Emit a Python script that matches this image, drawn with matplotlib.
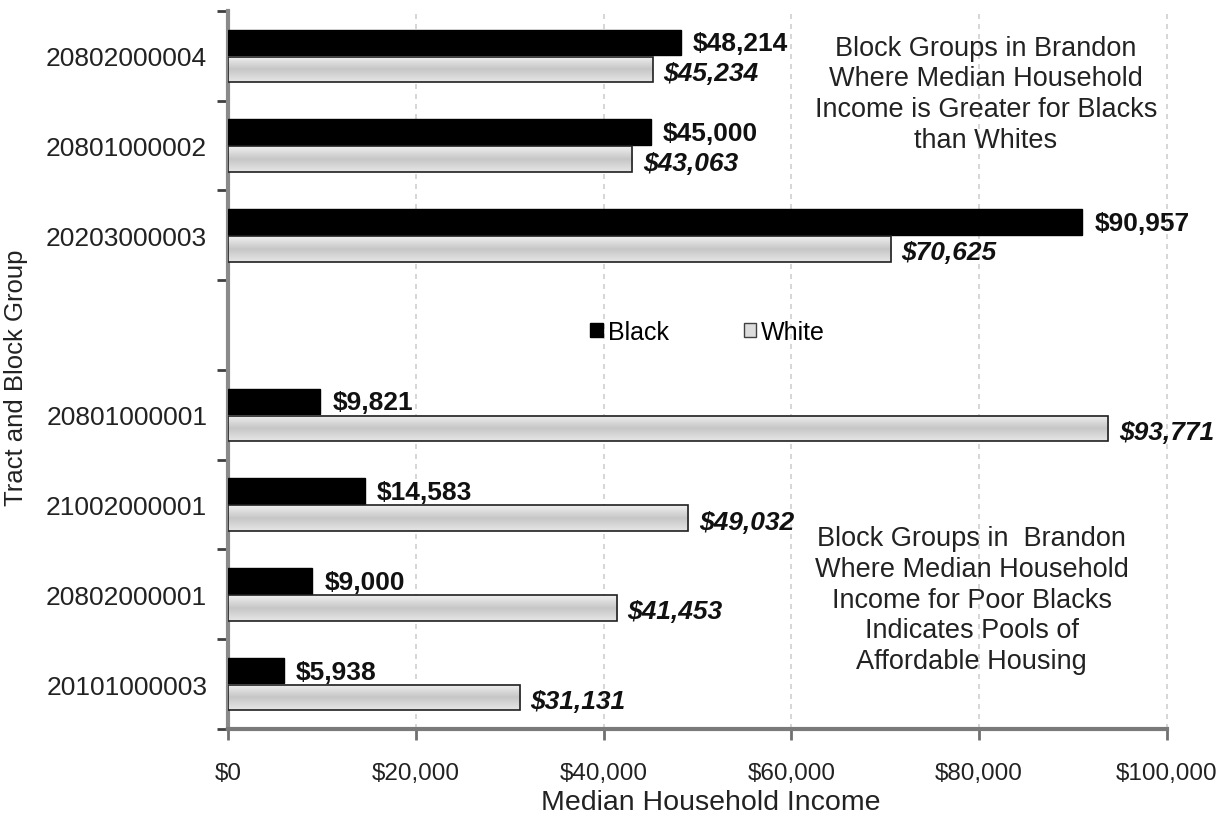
import numpy as np
import matplotlib.pyplot as plt
from matplotlib.patches import Patch
from matplotlib.colors import LinearSegmentedColormap
from matplotlib.ticker import FuncFormatter

plt.rcParams['font.family'] = ['Liberation Sans', 'DejaVu Sans']

# datos por grupo de bloque (de arriba hacia abajo); "" es el hueco central
grupos = ['20802000004', '20801000002', '20203000003', '',
          '20801000001', '21002000001', '20802000001', '20101000003']
ingreso_negro = [48214, 45000, 90957, None, 9821, 14583, 9000, 5938]
ingreso_blanco = [45234, 43063, 70625, None, 93771, 49032, 41453, 31131]

texto_arriba = ('Block Groups in Brandon\nWhere Median Household\n'
                'Income is Greater for Blacks\nthan Whites')
texto_abajo = ('Block Groups in  Brandon\nWhere Median Household\n'
               'Income for Poor Blacks\nIndicates Pools of\nAffordable Housing')

fig = plt.figure(figsize=(12.31, 8.2), dpi=100)
ax = fig.add_axes([0.1852, 0.1098, 0.948 - 0.1852, 0.9854 - 0.1098])

alto = 0.285
desp = 0.15
gris = LinearSegmentedColormap.from_list('gris', ['#f0f0f0', '#c6c6c6', '#e6e6e6'])
degradado = np.linspace(0, 1, 64).reshape(-1, 1)

for i, (b, w) in enumerate(zip(ingreso_negro, ingreso_blanco)):
    if b is None:
        continue
    ax.barh(i - desp, b, height=alto, color='black', edgecolor='black',
            linewidth=1, zorder=3)
    # barra blanca con degradado gris
    y0, y1 = i + desp - alto / 2, i + desp + alto / 2
    ax.imshow(degradado, cmap=gris, aspect='auto', extent=(0, w, y1, y0),
              zorder=3, interpolation='bilinear')
    ax.barh(i + desp, w, height=alto, facecolor='none', edgecolor='#202020',
            linewidth=1.2, zorder=4)
    ax.text(b + 1300, i - desp + 0.01, f'${b:,}', va='center', ha='left',
            fontsize=19, fontweight='bold', zorder=5, color='#111111')
    ax.text(w + 1100, i + desp + 0.04, f'${w:,}', va='center', ha='left',
            fontsize=19, fontweight='bold', fontstyle='italic', zorder=5,
            color='#111111')

ax.set_xlim(0, 100000)
ax.set_ylim(7.5, -0.5)

ax.set_yticks(range(len(grupos)))
ax.set_yticklabels(grupos, fontsize=19, color='#222222')
ax.set_yticks(np.arange(-0.5, 8, 1), minor=True)
ax.tick_params(axis='y', which='major', length=0, pad=15)
ax.tick_params(axis='y', which='minor', length=8, width=2, color='#404040')

ax.set_xticks(range(0, 100001, 20000))
ax.xaxis.set_major_formatter(FuncFormatter(lambda v, p: f'${v:,.0f}'))
ax.tick_params(axis='x', length=8, width=2, color='#707070', labelsize=17.5,
               pad=16, labelcolor='#222222')

ax.grid(axis='x', linestyle=(0, (3, 3)), color='#d0d0d0', linewidth=1.2, zorder=0)
for linea in ax.get_xgridlines():
    linea.set_clip_on(False)

for lado in ['top', 'right']:
    ax.spines[lado].set_visible(False)
ax.spines['left'].set_color('#8a8a8a')
ax.spines['left'].set_linewidth(3)
ax.spines['bottom'].set_color('#7a7a7a')
ax.spines['bottom'].set_linewidth(3)

ax.set_xlabel('Median Household Income', fontsize=20.5, color='#222222')
ax.xaxis.set_label_coords(0.514, -0.084)
ax.set_ylabel('Tract and Block Group', fontsize=18.5, color='#222222')
ax.yaxis.set_label_coords(-0.213, 0.49)

ax.text(0.807, 0.967, texto_arriba, transform=ax.transAxes, ha='center',
        va='top', fontsize=19.5, linespacing=1.24, color='#222222')
ax.text(0.792, 0.284, texto_abajo, transform=ax.transAxes, ha='center',
        va='top', fontsize=19.5, linespacing=1.24, color='#222222')

manijas = [Patch(facecolor='black', edgecolor='black', label='Black'),
           Patch(facecolor='#dcdcdc', edgecolor='#404040', label='White')]
ax.legend(handles=manijas, loc='center', bbox_to_anchor=(0.5106, 0.553), ncol=2,
          frameon=False, fontsize=18, handlelength=0.5, handleheight=0.5,
          handletextpad=0.2, columnspacing=3.0)

fig.savefig('out.png', dpi=100)
